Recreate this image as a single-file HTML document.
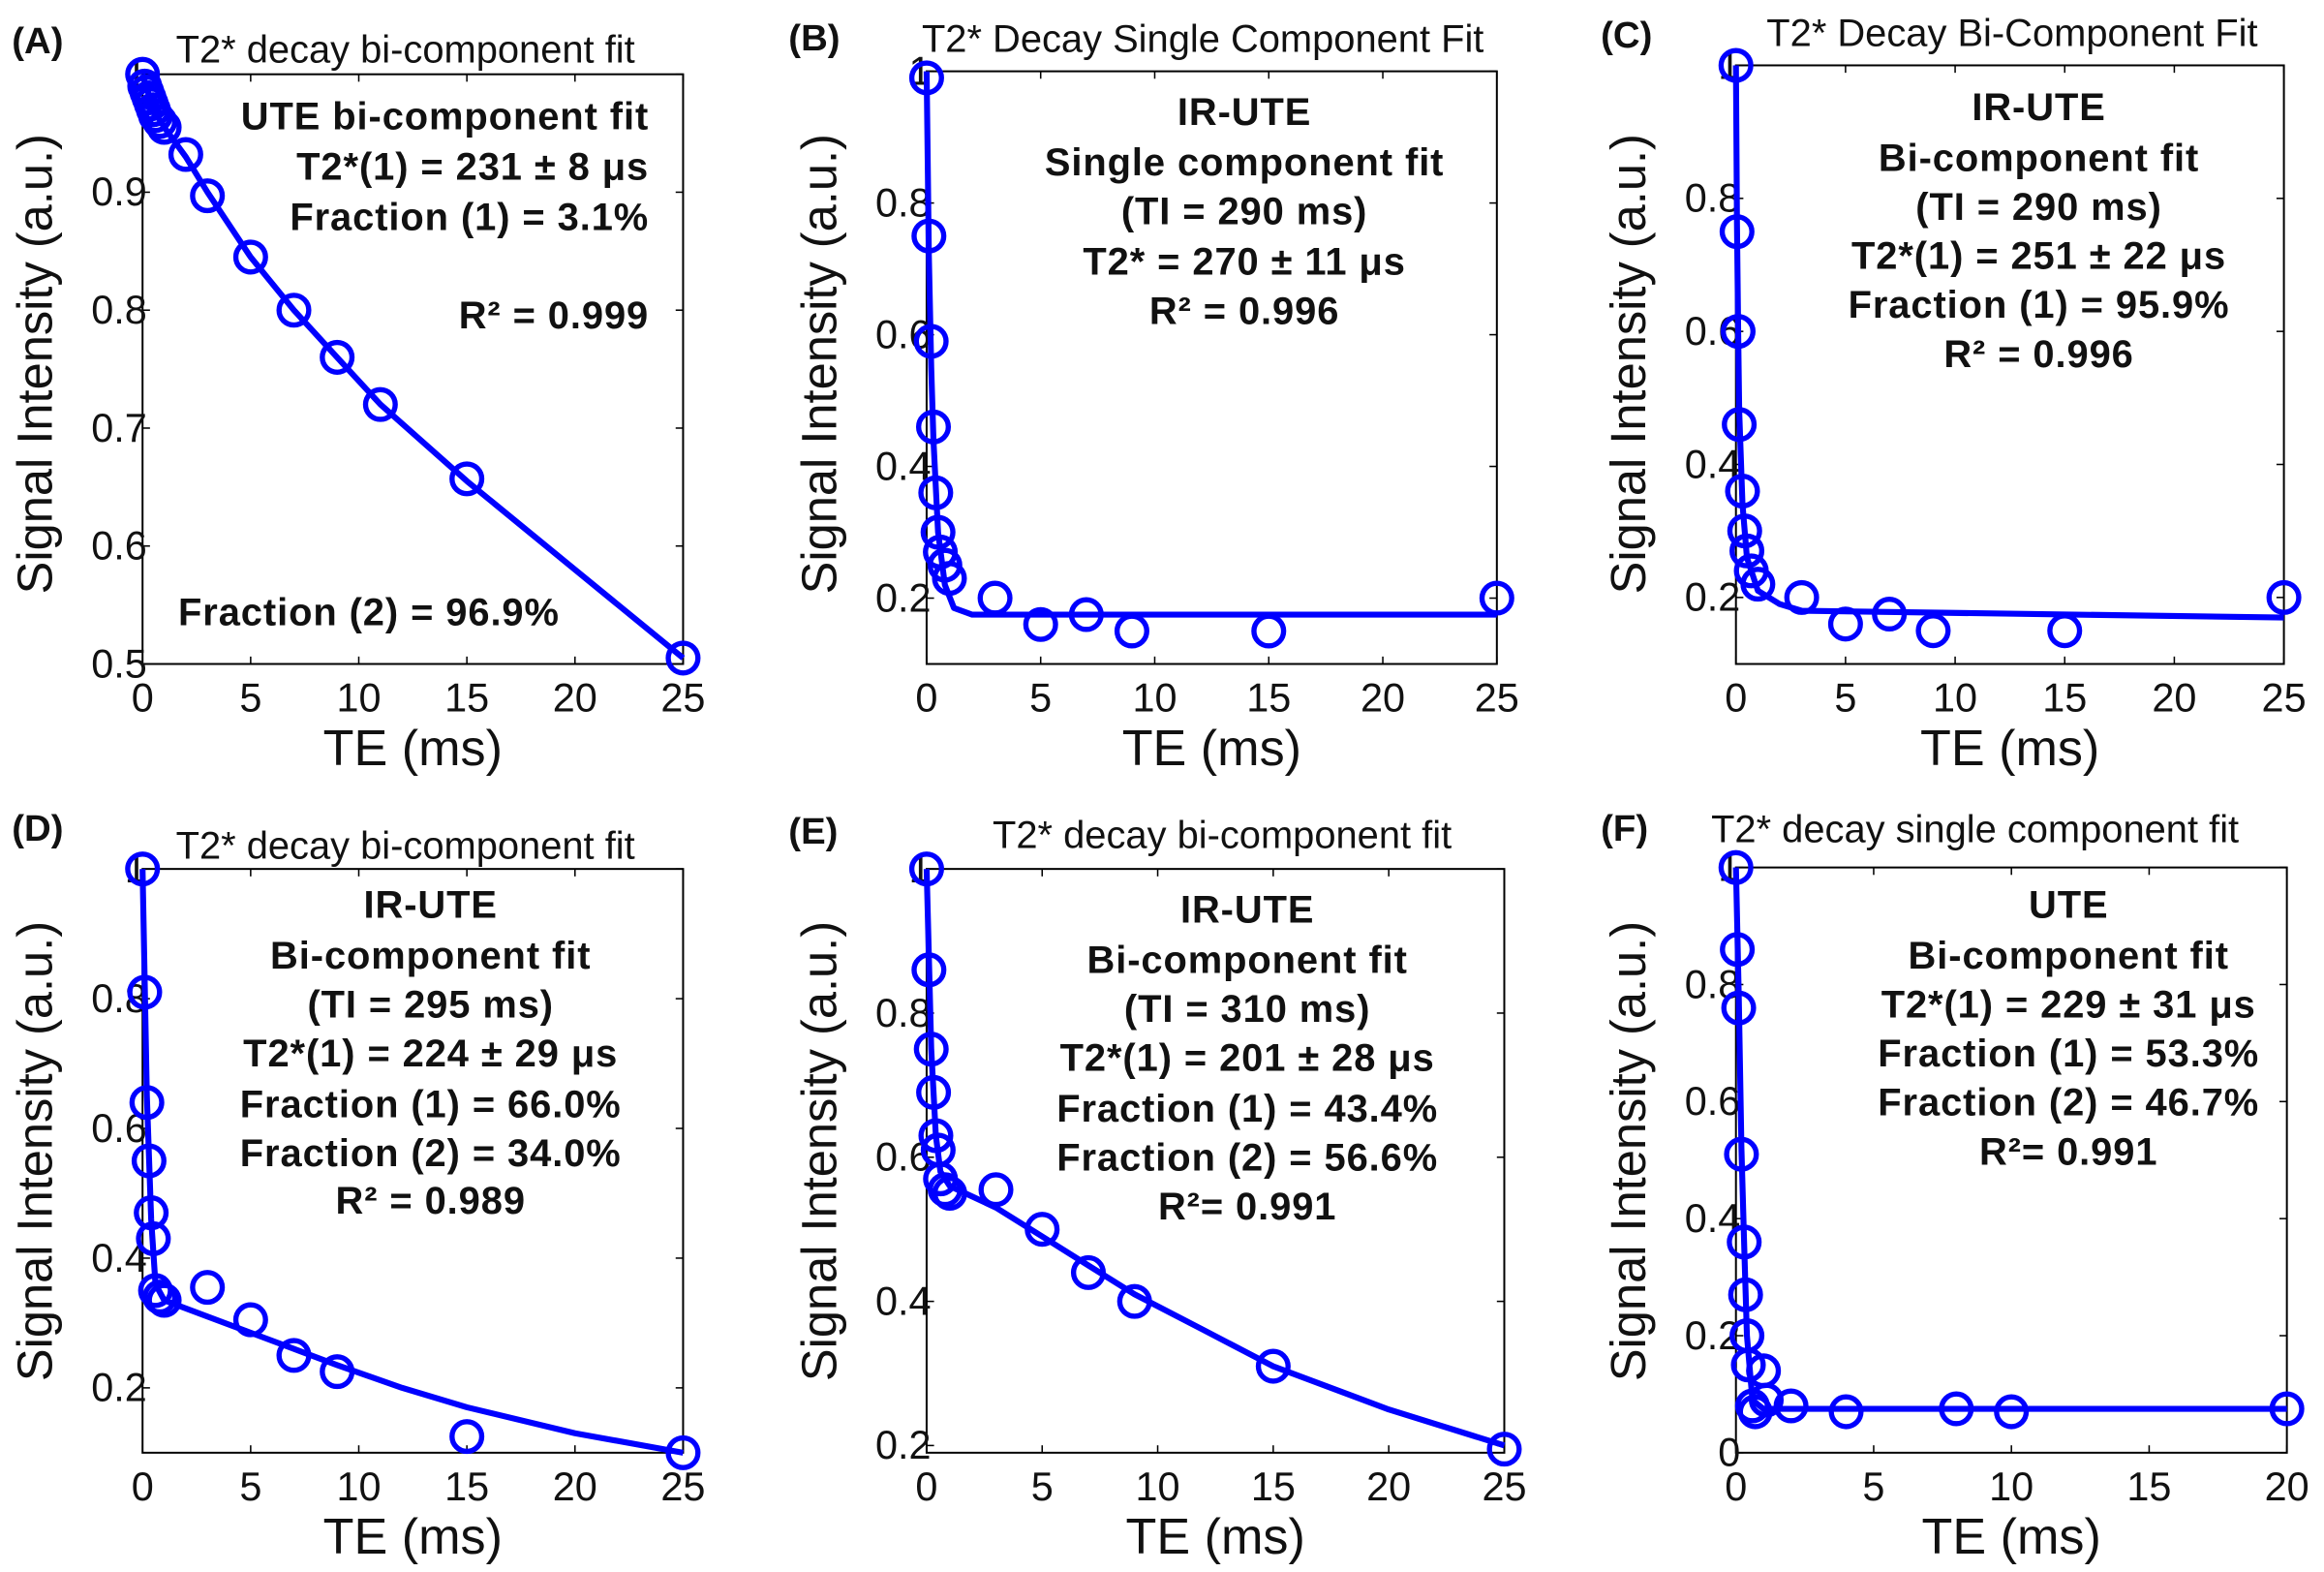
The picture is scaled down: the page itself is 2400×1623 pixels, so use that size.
<!DOCTYPE html>
<html><head><meta charset="utf-8"><style>
html,body{margin:0;padding:0;background:#fff;}
svg{display:block;}
text{font-family:"Liberation Sans",Arial,sans-serif;}
</style></head><body>
<svg id="fig" width="2400" height="1623" viewBox="0 0 1565 1058.3" preserveAspectRatio="none" xmlns="http://www.w3.org/2000/svg"></svg>
<script>
// ---- data (TE in ms, signal in a.u.) ----
const aTE = [0,0.1,0.2,0.3,0.4,0.5,0.6,0.8,1,2,3,5,7,9,11,15,25];
const aSig = [1,0.99,0.985,0.98,0.975,0.97,0.965,0.96,0.955,0.932,0.897,0.845,0.8,0.76,0.72,0.657,0.505];
const aFitTE = [0,0.5,1,2,3,5,7,9,11,15,20,25];
const aFitSig = [1,0.97,0.955,0.93,0.9,0.845,0.8,0.76,0.72,0.655,0.58,0.505];

const bTE = [0,0.1,0.2,0.3,0.4,0.5,0.6,0.8,1,3,5,7,9,15,25];
const bSig = [0.99,0.75,0.59,0.46,0.36,0.30,0.27,0.25,0.23,0.2,0.16,0.175,0.15,0.15,0.2];
const bFitTE = [0,0.1,0.2,0.3,0.5,0.8,1.2,2,25];
const bFitSig = [1,0.72,0.55,0.44,0.3,0.22,0.185,0.175,0.175];

const cTE = [0,0.05,0.1,0.15,0.3,0.4,0.5,0.7,1,3,5,7,9,15,25];
const cSig = [1,0.75,0.6,0.46,0.36,0.30,0.27,0.24,0.22,0.2,0.16,0.175,0.15,0.15,0.2];
const cFitTE = [0,0.05,0.1,0.15,0.3,0.5,1,2,3,25];
const cFitSig = [1,0.76,0.6,0.48,0.34,0.26,0.21,0.19,0.18,0.17];

const dTE = [0,0.1,0.2,0.3,0.4,0.5,0.6,0.8,1,3,5,7,9,15,25];
const dSig = [1,0.81,0.64,0.55,0.47,0.43,0.35,0.34,0.335,0.355,0.305,0.25,0.225,0.125,0.1];
const dFitTE = [0,0.2,0.4,0.6,1,3,5,7,9,12,15,20,25];
const dFitSig = [1,0.65,0.46,0.36,0.335,0.31,0.285,0.26,0.235,0.2,0.17,0.13,0.1];

const eTE = [0,0.1,0.2,0.3,0.4,0.5,0.6,0.8,1,3,5,7,9,15,25];
const eSig = [1,0.86,0.75,0.69,0.63,0.61,0.57,0.555,0.55,0.555,0.5,0.44,0.4,0.31,0.195];
const eFitTE = [0,0.2,0.4,0.6,1,3,5,7,9,12,15,20,25];
const eFitSig = [1,0.75,0.63,0.58,0.56,0.53,0.49,0.45,0.41,0.36,0.31,0.25,0.2];

const fTE = [0,0.05,0.1,0.2,0.3,0.35,0.4,0.45,0.6,0.7,1,1.1,2,4,8,10,20];
const fSig = [1,0.86,0.76,0.51,0.36,0.27,0.2,0.15,0.08,0.07,0.14,0.09,0.08,0.07,0.075,0.07,0.075];
const fFitTE = [0,0.1,0.2,0.3,0.4,0.6,1,20];
const fFitSig = [1,0.78,0.52,0.35,0.2,0.09,0.075,0.075];

const xTicks25 = [0,5,10,15,20,25];
const xTicks20 = [0,5,10,15,20];
const yTicksA = [0.5,0.6,0.7,0.8,0.9,1];
const yTicksB = [0.2,0.4,0.6,0.8,1];
const yTicksF = [0,0.2,0.4,0.6,0.8,1];

const svg = document.getElementById('fig');
const NS = 'http://www.w3.org/2000/svg';
function mk(tag, attrs, parent){ const e=document.createElementNS(NS,tag); for(const k in attrs) e.setAttribute(k,attrs[k]); (parent||svg).appendChild(e); return e; }

const panels = [
 {id:'a',tag:'(A)',tagX:8,tagY:36,title:'T2* decay bi-component fit',titleX:273,titleY:42,l:96,r:460,t:50,b:447,xmax:25,ymin:0.5,ymax:1,xt:xTicks25,yt:yTicksA,te:aTE,sig:aSig,fte:aFitTE,fsig:aFitSig,
  ann:[['UTE bi-component  fit',437,87,'end'],['T2*(1) = 231  ±  8 μs',437,121,'end'],['Fraction  (1) = 3.1%',437,155,'end'],['R² = 0.999',437,221,'end'],['Fraction  (2) = 96.9%',120,421,'start']],yl:245},
 {id:'b',tag:'(B)',tagX:531,tagY:34,title:'T2* Decay Single Component Fit',titleX:810,titleY:35,l:624,r:1008,t:48,b:447,xmax:25,ymin:0.1,ymax:1,xt:xTicks25,yt:yTicksB,te:bTE,sig:bSig,fte:bFitTE,fsig:bFitSig,
  ann:[['IR-UTE',838,84],['Single  component  fit',838,118],['(TI = 290  ms)',838,151],['T2* = 270  ± 11 μs',838,185],['R² = 0.996',838,218]],yl:245},
 {id:'c',tag:'(C)',tagX:1078,tagY:32,title:'T2* Decay Bi-Component Fit',titleX:1355,titleY:31,l:1169,r:1538,t:44,b:447,xmax:25,ymin:0.1,ymax:1,xt:xTicks25,yt:yTicksB,te:cTE,sig:cSig,fte:cFitTE,fsig:cFitSig,
  ann:[['IR-UTE',1373,81],['Bi-component  fit',1373,115],['(TI = 290  ms)',1373,148],['T2*(1) = 251  ± 22 μs',1373,181],['Fraction  (1) = 95.9%',1373,214],['R² = 0.996',1373,247]],yl:245},
 {id:'d',tag:'(D)',tagX:8,tagY:566,title:'T2* decay bi-component fit',titleX:273,titleY:578,l:96,r:460,t:585,b:978,xmax:25,ymin:0.1,ymax:1,xt:xTicks25,yt:yTicksB,te:dTE,sig:dSig,fte:dFitTE,fsig:dFitSig,
  ann:[['IR-UTE',290,618],['Bi-component  fit',290,652],['(TI = 295  ms)',290,685],['T2*(1) = 224  ± 29 μs',290,718],['Fraction  (1) = 66.0%',290,752],['Fraction  (2) = 34.0%',290,785],['R² = 0.989',290,817]],yl:775},
 {id:'e',tag:'(E)',tagX:531,tagY:568,title:'T2* decay bi-component fit',titleX:823,titleY:571,l:624,r:1013,t:585,b:978,xmax:25,ymin:0.19,ymax:1,xt:xTicks25,yt:yTicksB,te:eTE,sig:eSig,fte:eFitTE,fsig:eFitSig,
  ann:[['IR-UTE',840,621],['Bi-component  fit',840,655],['(TI = 310  ms)',840,688],['T2*(1) = 201  ± 28 μs',840,721],['Fraction  (1) = 43.4%',840,755],['Fraction  (2) = 56.6%',840,788],['R²= 0.991',840,821]],yl:775},
 {id:'f',tag:'(F)',tagX:1078,tagY:566,title:'T2* decay single component fit',titleX:1330,titleY:567,l:1169,r:1540,t:584,b:978,xmax:20,ymin:0,ymax:1,xt:xTicks20,yt:yTicksF,te:fTE,sig:fSig,fte:fFitTE,fsig:fFitSig,
  ann:[['UTE',1393,618],['Bi-component  fit',1393,652],['T2*(1) = 229  ± 31 μs',1393,685],['Fraction  (1) = 53.3%',1393,718],['Fraction  (2) = 46.7%',1393,751],['R²= 0.991',1393,784]],yl:775}
];

panels.forEach(p=>{
  const g = mk('g',{});
  
  
  const X = v => p.l + (v/p.xmax)*(p.r-p.l);
  const Y = v => p.b - (v-p.ymin)/(p.ymax-p.ymin)*(p.b-p.t);
  const box = mk('rect',{x:p.l,y:p.t,width:p.r-p.l,height:p.b-p.t,fill:'none',stroke:'#000','stroke-width':1.3},g);
  
  
  p.xt.forEach(v=>{
    const x=X(v);
    mk('line',{x1:x,y1:p.b,x2:x,y2:p.b-5,stroke:'#000','stroke-width':1},g);
    mk('line',{x1:x,y1:p.t,x2:x,y2:p.t+5,stroke:'#000','stroke-width':1},g);
    const t=mk('text',{x:x,y:p.b+32,'font-size':27,'text-anchor':'middle',fill:'#111'},g);
    t.textContent=v;
    
    
  });
  p.yt.forEach(v=>{
    const y=Y(v);
    mk('line',{x1:p.l,y1:y,x2:p.l+5,y2:y,stroke:'#000','stroke-width':1},g);
    mk('line',{x1:p.r,y1:y,x2:p.r-5,y2:y,stroke:'#000','stroke-width':1},g);
    const t=mk('text',{x:p.l+3,y:y+9,'font-size':27,'text-anchor':'end',fill:'#111'},g);
    t.textContent=String(v);
    
    
  });
  let d='';
  p.fte.forEach((v,i)=>{ d+=(i?'L':'M')+X(v).toFixed(1)+' '+Y(p.fsig[i]).toFixed(1); });
  const fit=mk('path',{d:d,fill:'none',stroke:'#0000ff','stroke-width':4,'stroke-linejoin':'round'},g);
  
  
  p.te.forEach((v,i)=>{
    const c=mk('circle',{cx:X(v),cy:Y(p.sig[i]),r:10,fill:'none',stroke:'#0000ff','stroke-width':3.5},g);
    
    
  });
  const tg=mk('text',{x:p.tagX,y:p.tagY,'font-size':25,'font-weight':'bold',fill:'#111'},g);
  tg.textContent=p.tag;
  
  
  const tt=mk('text',{x:p.titleX,y:p.titleY,'font-size':26,'text-anchor':'middle',fill:'#111'},g);
  tt.textContent=p.title;
  
  
  p.ann.forEach(a=>{
    const t=mk('text',{x:a[1],y:a[2],'font-size':26,'font-weight':'bold','letter-spacing':0.6,'text-anchor':a[3]||'middle',fill:'#111'},g);
    t.textContent=a[0];
    
    
  });
  const xl=mk('text',{x:(p.l+p.r)/2,y:p.b+68,'font-size':34,'text-anchor':'middle',fill:'#111'},g);
  xl.textContent='TE (ms)';
  
  
  const yx=p.l-61;
  const yl=mk('text',{x:yx,y:p.yl,'font-size':33,'text-anchor':'middle',fill:'#111',transform:'rotate(-90 '+yx+' '+p.yl+')'},g);
  yl.textContent='Signal Intensity (a.u.)';
  
  
});
</script>
</body></html>
